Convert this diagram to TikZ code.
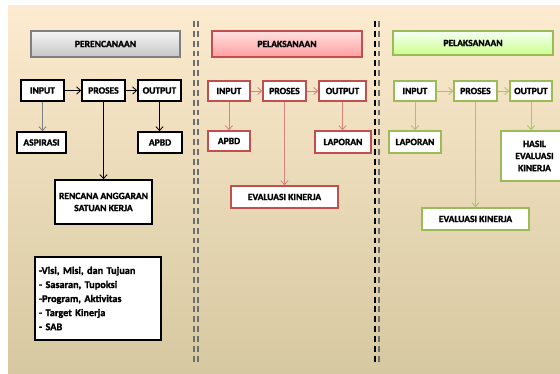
\documentclass[tikz,border=0pt]{standalone}
\usepackage{fontspec}
\setmainfont{Carlito}[BoldFont={Carlito Bold}, BoldFeatures={FakeBold=1.6}]
\usetikzlibrary{arrows.meta, shadows}
\definecolor{bgtop}{HTML}{FCEBCF}
\definecolor{bgbot}{HTML}{D6C8A0}
\definecolor{redln}{HTML}{C0504D}
\definecolor{redar}{HTML}{D88280}
\definecolor{grnln}{HTML}{9BBB59}
\definecolor{grnar}{HTML}{A9C46E}
\definecolor{dashgr}{HTML}{6E6E6E}
\definecolor{gryln}{HTML}{7F7F7F}

\begin{document}
\begin{tikzpicture}[x=0.025cm, y=-0.025cm,
  box/.style={draw=#1, line width=1.1pt, fill=white, align=center, inner sep=1pt, font=\fontsize{6.8}{8.6}\selectfont\bfseries},
  hdr/.style={draw=#1, line width=0.8pt, minimum height=0.65cm, font=\fontsize{6.8}{8.6}\selectfont\bfseries, drop shadow={opacity=0.3, shadow xshift=0.8pt, shadow yshift=-1pt}},
  flow/.style={draw=#1, line width=0.6pt, -{Straight Barb[length=1mm, width=1.8mm]}},
  sep/.style={draw=#1, line width=0.8pt, dash pattern=on 4.2pt off 2.8pt}
]
  % canvas
  \useasboundingbox (0,0) rectangle (560,374);
  \clip (0,0) rectangle (560,374);
  \fill[white] (0,0) rectangle (560,374);
  \shade[top color=bgtop, bottom color=bgbot] (8,6) rectangle (560,374);

  % separators
  \draw[sep=dashgr] (194,21) -- (194,363);
  \draw[sep=dashgr] (198,21) -- (198,363);
  \draw[sep=black] (375,21) -- (375,365);
  \draw[sep=dashgr] (379,21) -- (379,365);

  % perencanaan
  \node[hdr=gryln, top color=gray!8, bottom color=gray!45, minimum width=3.725cm] (hdrA) at (105.5,44) {PERENCANAAN};
  \node[box=black, minimum width=1.075cm, minimum height=0.525cm] (inA) at (42.5,90.5) {INPUT};
  \node[box=black, minimum width=1.075cm, minimum height=0.525cm] (prA) at (103.5,90.5) {PROSES};
  \node[box=black, minimum width=1.075cm, minimum height=0.525cm] (outA) at (159.5,90.5) {OUTPUT};
  \node[box=black, minimum width=1.225cm, minimum height=0.525cm] (asp) at (41.5,142.5) {ASPIRASI};
  \node[box=black, minimum width=1.1cm, minimum height=0.525cm] (apbdA) at (160,142.5) {APBD};
  \node[box=black, minimum width=2.425cm, minimum height=1.1cm] (rask) at (103.5,202) {RENCANA ANGGARAN\\SATUAN KERJA};
  \node[box=black, minimum width=3.15cm, minimum height=2.075cm, text width=2.95cm, align=left,
        font=\fontsize{7.3}{10}\selectfont\bfseries] (dok) at (98,298.5)
        {-Visi, Misi, dan Tujuan\\- Sasaran, Tupoksi\\-Program, Aktivitas\\- Target Kinerja\\- SAB};

  \draw[flow=black] (inA) -- (prA);
  \draw[flow=black] (prA) -- (outA);
  \draw[flow=gryln] (inA.south) -- (inA.south |- asp.north);
  \draw[flow=black] (prA.south) -- (rask.north);
  \draw[flow=black] (outA.south) -- (outA.south |- apbdA.north);

  % pelaksanaan (merah)
  \node[hdr=redln, top color=red!12, bottom color=red!38, minimum width=3.75cm] (hdrB) at (287,44) {PELAKSANAAN};
  \node[box=redln, minimum width=1.05cm, minimum height=0.5cm] (inB) at (229,91) {INPUT};
  \node[box=redln, minimum width=1.075cm, minimum height=0.5cm] (prB) at (284.5,91) {PROSES};
  \node[box=redln, minimum width=1.175cm, minimum height=0.5cm] (outB) at (342.5,91) {OUTPUT};
  \node[box=redln, minimum width=1.05cm, minimum height=0.5cm] (apbdB) at (229,141) {APBD};
  \node[box=redln, minimum width=1.4cm, minimum height=0.55cm] (lapB) at (343,142) {LAPORAN};
  \node[box=redln, minimum width=2.675cm, minimum height=0.55cm] (evB) at (284.5,197) {EVALUASI KINERJA};

  \draw[flow=redar] (inB) -- (prB);
  \draw[flow=redar] (prB) -- (outB);
  \draw[flow=redar] (inB.south) -- (apbdB.north);
  \draw[flow=redar] (prB.south) -- (evB.north);
  \draw[flow=redar] (outB.south) -- (outB.south |- lapB.north);

  % pelaksanaan (hijau)
  \node[hdr=grnln, top color=green!4!white, bottom color=green!45!yellow!45, minimum width=4cm, minimum height=0.6cm] (hdrC) at (473,43) {PELAKSANAAN};
  \node[box=grnln, minimum width=1.05cm, minimum height=0.5cm] (inC) at (415,91) {INPUT};
  \node[box=grnln, minimum width=1.075cm, minimum height=0.5cm] (prC) at (475.5,91) {PROSES};
  \node[box=grnln, minimum width=1.05cm, minimum height=0.5cm] (outC) at (531,91) {OUTPUT};
  \node[box=grnln, minimum width=1.3cm, minimum height=0.55cm] (lapC) at (415,142) {LAPORAN};
  \node[box=grnln, minimum width=1.675cm, minimum height=1.25cm] (hasil) at (534.5,156) {HASIL\\EVALUASI\\KINERJA};
  \node[box=grnln, minimum width=2.675cm, minimum height=0.55cm] (evC) at (475.5,219) {EVALUASI KINERJA};

  \draw[flow=grnar] (inC) -- (prC);
  \draw[flow=grnar] (prC) -- (outC);
  \draw[flow=grnar] (inC.south) -- (lapC.north);
  \draw[flow=grnar] (prC.south) -- (evC.north);
  \draw[flow=grnar] (outC.south) -- (outC.south |- hasil.north);
\end{tikzpicture}
\end{document}
